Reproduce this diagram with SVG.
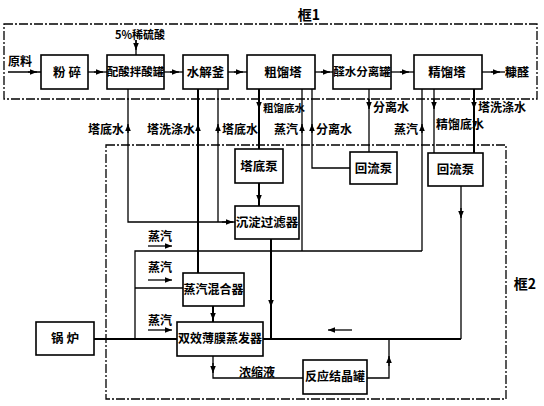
<svg xmlns="http://www.w3.org/2000/svg" width="544" height="406" viewBox="0 0 544 406">
<style>
text{font-family:"Noto Sans CJK SC","Noto Sans",sans-serif;font-weight:bold;fill:#000}
.bx{fill:#fff;stroke:#000;stroke-width:1.6}
.bt{font-size:12.5px;text-anchor:middle}
.lb{font-size:12px}
.fr{fill:none;stroke:#000;stroke-width:1.3;stroke-dasharray:9 2 2 2}
.ln{fill:none;stroke:#000;stroke-width:1.3}
.tk{fill:none;stroke:#000;stroke-width:2}
.ah{fill:none;stroke:#000;stroke-width:1.3;marker-end:url(#a)}
</style>
<defs>
<marker id="a" viewBox="0 0 10 10" refX="10" refY="5" markerWidth="8" markerHeight="7" markerUnits="userSpaceOnUse" orient="auto">
<path d="M0,1 L10,5 L0,9 z" fill="#000"/>
</marker>
</defs>
<rect width="544" height="406" fill="#fff"/>

<g id="frames">
<rect class="fr" x="4" y="24" width="533" height="75"/>
<rect class="fr" x="106" y="145" width="400" height="254"/>
<text x="309" y="20" style="font-size:14px" text-anchor="middle">框1</text>
<text x="525" y="289" style="font-size:14px" text-anchor="middle">框2</text>
</g>

<g id="connectors">
<path class="ln" d="M8,72 H41"/><path class="ah" d="M28,72 H37"/>
<path class="ln" d="M88,72 H107"/><path class="ah" d="M94,72 H103"/>
<path class="ln" d="M164,72 H183"/><path class="ah" d="M170,72 H179"/>
<path class="ln" d="M228,72 H247"/><path class="ah" d="M234,72 H243"/>
<path class="ln" d="M315,72 H333"/><path class="ah" d="M321,72 H330"/>
<path class="ln" d="M391,72 H414"/><path class="ah" d="M400,72 H409"/>
<path class="ln" d="M482,72 H505"/><path class="ah" d="M491,72 H500"/>
<path class="ln" d="M136,40 V55"/><path class="ah" d="M136,40 V50"/>
<path class="ln" d="M128,89 V222 H235"/><path class="ah" d="M128,133 V124"/>
<path class="tk" d="M198,89 V273"/><path class="ah" d="M198,133 V124"/>
<path class="ln" d="M218,89 V222"/><path class="ah" d="M218,133 V124"/>
<path class="ah" d="M222,222 H233"/>
<path class="tk" d="M259,89 V149"/><path class="ah" d="M259,99 V109"/>
<path class="tk" d="M259,183 V206"/><path class="ah" d="M259,192 V202"/>
<path class="ln" d="M302,89 V251"/><path class="ah" d="M302,133 V124"/>
<path class="ln" d="M312,89 V168 H350"/><path class="ah" d="M312,133 V124"/>
<path class="ln" d="M369,89 V152"/><path class="ah" d="M369,99 V109"/>
<path class="ln" d="M422,89 V251"/><path class="ah" d="M422,133 V124"/>
<path class="ln" d="M434,89 V153"/><path class="ah" d="M434,99 V109"/>
<path class="tk" d="M474,89 V153"/><path class="ah" d="M474,99 V109"/>
<path class="ln" d="M461,186 V339"/><path class="ah" d="M461,208 V218"/>
<path class="ln" d="M422,251 H135 V339"/>
<path class="ln" d="M135,288 H183"/>
<path class="tk" d="M94,339 H177"/>
<path class="tk" d="M271,239 V339"/><path class="ah" d="M271,297 V307"/>
<path class="tk" d="M263,339 H461"/>
<path class="ah" d="M352,330 H328"/>
<path class="ah" d="M148,246 H172"/>
<path class="ah" d="M148,280 H172"/>
<path class="ah" d="M148,330 H172"/>
<path class="tk" d="M213,306 V322"/><path class="ah" d="M213,310 V320"/>
<path class="ln" d="M213,356 V378 H303"/><path class="ah" d="M213,363 V373"/>
<path class="ln" d="M367,378 H389 V339"/><path class="ah" d="M389,366 V356"/>
</g>

<g id="labels">
<text class="lb" x="8" y="66">原料</text>
<text class="lb" x="140" y="39" text-anchor="middle" style="font-size:11px">5%稀硫酸</text>
<text class="lb" x="505" y="77">糠醛</text>
<text class="lb" x="124" y="134" text-anchor="end">塔底水</text>
<text class="lb" x="195" y="134" text-anchor="end">塔洗涤水</text>
<text class="lb" x="222" y="134">塔底水</text>
<text class="lb" x="263" y="112" style="font-size:10.5px">粗馏底水</text>
<text class="lb" x="298" y="134" text-anchor="end">蒸汽</text>
<text class="lb" x="316" y="134">分离水</text>
<text class="lb" x="373" y="112">分离水</text>
<text class="lb" x="418" y="134" text-anchor="end">蒸汽</text>
<text class="lb" x="436" y="129">精馏底水</text>
<text class="lb" x="478" y="112">塔洗涤水</text>
<text class="lb" x="160" y="241" text-anchor="middle">蒸汽</text>
<text class="lb" x="160" y="272" text-anchor="middle">蒸汽</text>
<text class="lb" x="160" y="325" text-anchor="middle">蒸汽</text>
<text class="lb" x="257" y="377" text-anchor="middle">浓缩液</text>
</g>

<g id="n-fensui"><rect class="bx" x="41" y="55" width="47" height="34"/><text class="bt" x="67" y="77">粉 碎</text></g>
<g id="n-peisuan"><rect class="bx" x="107" y="55" width="57" height="34"/><text class="bt" x="135.5" y="76" style="font-size:11.5px">配酸拌酸罐</text></g>
<g id="n-shuijie"><rect class="bx" x="183" y="55" width="45" height="34"/><text class="bt" x="205.5" y="77">水解釜</text></g>
<g id="n-culiu"><rect class="bx" x="247" y="55" width="68" height="34"/><text class="bt" x="283" y="77">粗馏塔</text></g>
<g id="n-fenli"><rect class="bx" x="333" y="55" width="58" height="34"/><text class="bt" x="362" y="76" style="font-size:11.5px">醛水分离罐</text></g>
<g id="n-jingliu"><rect class="bx" x="414" y="55" width="68" height="34"/><text class="bt" x="447" y="77">精馏塔</text></g>
<g id="n-tadibeng"><rect class="bx" x="235" y="149" width="48" height="34"/><text class="bt" x="259" y="171">塔底泵</text></g>
<g id="n-huiliu1"><rect class="bx" x="350" y="152" width="47" height="32"/><text class="bt" x="373.5" y="173">回流泵</text></g>
<g id="n-huiliu2"><rect class="bx" x="428" y="153" width="55" height="33"/><text class="bt" x="455.5" y="174">回流泵</text></g>
<g id="n-chendian"><rect class="bx" x="235" y="206" width="64" height="33"/><text class="bt" x="267" y="227">沉淀过滤器</text></g>
<g id="n-hunhe"><rect class="bx" x="183" y="273" width="61" height="33"/><text class="bt" x="213.5" y="294" style="font-size:12px">蒸汽混合器</text></g>
<g id="n-zhengfa"><rect class="bx" x="177" y="322" width="86" height="34"/><text class="bt" x="220" y="343" style="font-size:12px">双效薄膜蒸发器</text></g>
<g id="n-jiejing"><rect class="bx" x="303" y="360" width="64" height="34"/><text class="bt" x="335" y="381" style="font-size:12px">反应结晶罐</text></g>
<g id="n-guolu"><rect class="bx" x="36" y="322" width="58" height="33"/><text class="bt" x="65" y="343">锅 炉</text></g>
</svg>
